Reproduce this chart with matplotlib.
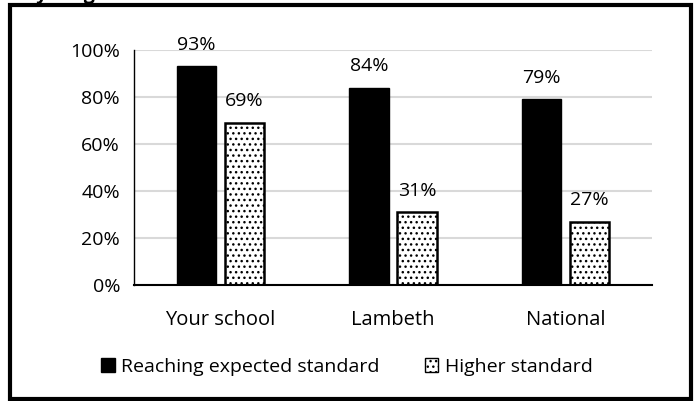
import matplotlib
matplotlib.use("Agg")
import matplotlib.pyplot as plt
from matplotlib.patches import Rectangle, Patch
import numpy as np

plt.rcParams['font.family'] = ['Open Sans', 'DejaVu Sans']
plt.rcParams['hatch.linewidth'] = 1.0

categories = ["Your school", "Lambeth", "National"]
expected = [93, 84, 79]
higher = [69, 31, 27]
series_names = ["Reaching expected standard", "Higher standard"]
yticks = [0, 20, 40, 60, 80, 100]
ytick_labels = ["0%", "20%", "40%", "60%", "80%", "100%"]

W, H = 699, 401
fig = plt.figure(figsize=(W/100, H/100), dpi=100)
ax = fig.add_axes([134/W, 1-285/H, (652-134)/W, (285-50)/H])

x = np.arange(len(categories))
bw = 0.226
off = 0.139
b1 = ax.bar(x - off, expected, bw, color='black', edgecolor='black', linewidth=1)
b2 = ax.bar(x + off, higher, bw, color='white', edgecolor='black', linewidth=1.8, hatch='...')

for rects, vals in ((b1, expected), (b2, higher)):
    for r, v in zip(rects, vals):
        ax.annotate(f"{v}%", (r.get_x() + r.get_width()/2, v), xytext=(0, 9),
                    textcoords='offset points', ha='center', va='bottom', fontsize=14)

ax.set_xlim(-0.5, 2.5)
ax.set_ylim(0, 100)
ax.set_yticks(yticks)
ax.set_yticklabels(ytick_labels, fontsize=14)
ax.set_xticks(x)
ax.set_xticklabels(categories, fontsize=14.5)
ax.tick_params(axis='both', length=0)
ax.tick_params(axis='y', pad=10)
ax.tick_params(axis='x', pad=18)
ax.grid(axis='y', color='#d9d9d9', linewidth=1.5)
ax.set_axisbelow(True)
for s in ('top', 'right'):
    ax.spines[s].set_visible(False)
ax.spines['left'].set_color('black')
ax.spines['left'].set_linewidth(1)
ax.spines['bottom'].set_color('black')
ax.spines['bottom'].set_linewidth(1.5)

handles = [Patch(facecolor='black', edgecolor='black'),
           Patch(facecolor='white', edgecolor='black', hatch='...')]
fig.legend(handles, series_names, loc='center', bbox_to_anchor=(347/W, 1-367/H),
           ncol=2, frameon=False, fontsize=14, handlelength=0.7, handleheight=0.7,
           handletextpad=0.35, columnspacing=2.3)

# outer border
fig.patches.append(Rectangle((10/W, 1-399/H), (681)/W, (394)/H, transform=fig.transFigure,
                             fill=False, edgecolor='black', linewidth=3))
# title cut off at top
fig.text(12/W, 1 + 1/H, "Key Stage", fontsize=14, fontweight='bold', va='baseline', ha='left')

fig.savefig("out.png", dpi=100)
